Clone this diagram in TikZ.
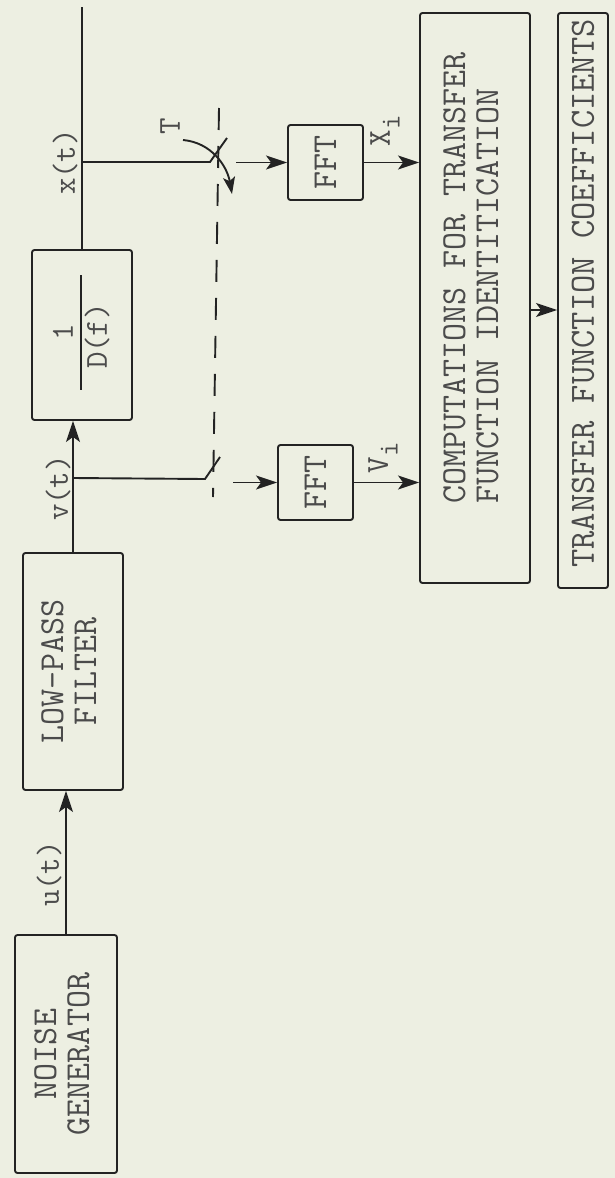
\documentclass[tikz,border=0pt]{standalone}
\usepackage{fontspec}
\usepackage{graphicx}
\usetikzlibrary{arrows.meta}
\definecolor{paper}{RGB}{237,239,226}
\definecolor{ink}{RGB}{35,35,35}
\definecolor{txt}{RGB}{75,75,75}
\tikzset{
  box/.style={draw=ink, line width=1.9pt, rounded corners=2.5pt, inner sep=0pt, text=txt, font=\ttfamily\fontsize{35}{33}\selectfont},
  lab/.style={inner sep=0pt, text=txt, font=\ttfamily\fontsize{32}{33}\selectfont},
  conn/.style={draw=ink, line width=1.9pt},
  arr/.style={conn, -{Stealth[length=21pt,width=14pt,inset=5pt]}},
}
\begin{document}
\begin{tikzpicture}[x=1pt,y=1pt]
\fill[paper] (0,0) rectangle (615,-1178);
\useasboundingbox (0,0) rectangle (615,-1178);

% boxes
\node[box, minimum width=102pt, minimum height=238pt] (noise) at (66,-1054)
  {\rotatebox{90}{\begin{tabular}{@{}c@{}}NOISE\\GENERATOR\end{tabular}}};
\node[box, minimum width=100pt, minimum height=237pt] (lpf) at (73,-671.5)
  {\rotatebox{90}{\begin{tabular}{@{}c@{}}LOW-PASS\\FILTER\end{tabular}}};
\node[box, minimum width=100pt, minimum height=170pt] (dinv) at (82,-335) {};
\node[lab] (one) at (63,-332) {\rotatebox{90}{1}};
\node[lab] (df) at (97,-336) {\rotatebox{90}{D(f)}};
\draw[ink, line width=1.6pt] (81,-275) -- (81,-390);

\node[box, minimum width=75pt, minimum height=75pt] (fft1) at (325.5,-162.5) {\rotatebox{90}{FFT}};
\node[box, minimum width=75pt, minimum height=75pt] (fft2) at (315.5,-482.5) {\rotatebox{90}{FFT}};

\node[box, minimum width=110pt, minimum height=570pt] (comp) at (475,-298)
  {\rotatebox{90}{\hspace*{40pt}\begin{tabular}{@{}l@{}}COMPUTATIONS FOR TRANSFER\\FUNCTION IDENTITICATION\end{tabular}}};
\node[box, minimum width=50pt, minimum height=575pt, font=\ttfamily\fontsize{35.5}{33}\selectfont] (tfc) at (583,-300.5)
  {\rotatebox{90}{\hspace*{14pt}TRANSFER FUNCTION COEFFICIENTS}};

% labels
\node[lab] (ulab) at (49,-874) {\rotatebox{90}{u(t)}};
\node[lab] (vlab) at (58,-488) {\rotatebox{90}{v(t)}};
\node[lab] (xlab) at (65,-162) {\rotatebox{90}{x(t)}};
\node[lab] (Tlab) at (170,-126) {\rotatebox{90}{T}};
\node[lab] (Xi) at (385,-131) {\rotatebox{90}{X\raisebox{-0.3em}{\fontsize{28}{28}\selectfont i}}};
\node[lab] (Vi) at (383,-458) {\rotatebox{90}{V\raisebox{-0.3em}{\fontsize{28}{28}\selectfont i}}};

% coordinates
\coordinate (vj) at (lpf.north |- 0,-478);
\coordinate (xj) at (dinv.north |- 0,-162);
\coordinate (top) at (dinv.north |- 0,-7);
\coordinate (s2a) at (205,-479);
\coordinate (s2b) at (220,-457);
\coordinate (s2c) at (233,-482.5);
\coordinate (s1a) at (210,-162);
\coordinate (s1b) at (227,-138);
\coordinate (s1c) at (236,-162.5);
\coordinate (d1) at (219,-108);
\coordinate (d2) at (213,-497);
\coordinate (t1) at (183,-140);
\coordinate (t2) at (232,-194);

% main chain
\draw[arr] (noise.north) -- (noise.north |- lpf.south);
\draw[arr] (lpf.north) -- (lpf.north |- dinv.south);
\draw[conn] (dinv.north) -- (top);

% switches
\draw[conn] (vj) -- (s2a) -- (s2b);
\draw[conn] (xj) -- (s1a) -- (s1b);
\draw[ink, line width=1.9pt, dash pattern=on 22pt off 16pt] (d1) -- (d2);
\draw[ink, line width=1.9pt, -{Stealth[length=17pt,width=12pt,inset=4pt]}] (t1) to[out=-5,in=100] (t2);

% to FFTs
\draw[arr] (s2c) -- (fft2.west);
\draw[arr] (s1c) -- (fft1.west);
\draw[arr] (fft1.east) -- (fft1.east -| comp.west);
\draw[arr] (fft2.east) -- (fft2.east -| comp.west);
\draw[arr] ([yshift=-12pt]comp.east) -- ([yshift=-12pt]comp.east -| tfc.west);
\end{tikzpicture}
\end{document}
